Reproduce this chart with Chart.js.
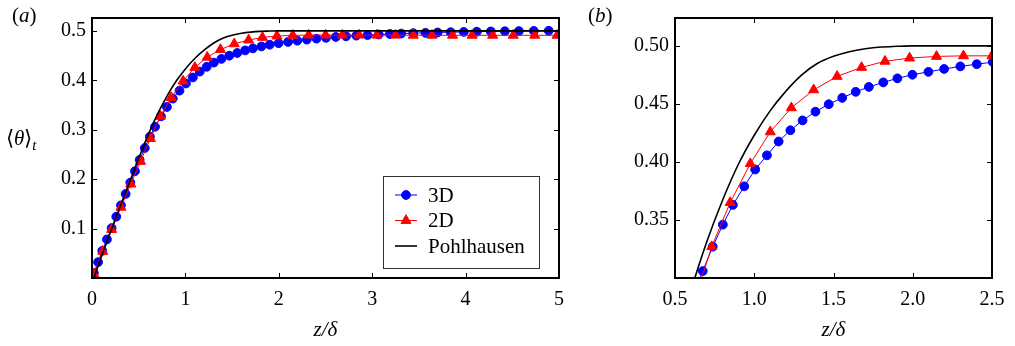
<!DOCTYPE html>
<html>
<head>
<meta charset="utf-8">
<script src="https://cdn.jsdelivr.net/npm/chart.js@4.4.1/dist/chart.umd.min.js"></script>
<style>
  body { margin: 0; background: #fff; width: 1015px; height: 346px; position: relative; overflow: hidden;
         font-family: 'Liberation Serif', 'Times New Roman', serif; color: #000; }
  .panel { position: absolute; top: 0; height: 346px; }
  #wrapA { left: 0; width: 600px; }
  #wrapB { left: 600px; width: 415px; }
  .lbl { position: absolute; font-size: 21px; line-height: 1; }
  .lbl sub { font-size: 15px; }
</style>
</head>
<body>
<div class="panel" id="wrapA"><canvas id="chartA"></canvas></div>
<div class="panel" id="wrapB"><canvas id="chartB"></canvas></div>
<div class="lbl" style="left:12px;top:5px">(<i>a</i>)</div>
<div class="lbl" style="left:588px;top:5px">(<i>b</i>)</div>
<div class="lbl" style="left:6px;top:128px">⟨<i>θ</i>⟩<sub><i>t</i></sub></div>

<script>
// 3D simulation (blue circles)
const x3D = [0.02, 0.065, 0.11, 0.16, 0.21, 0.26, 0.31, 0.36, 0.41, 0.46, 0.51, 0.565, 0.62, 0.675,
  0.738, 0.802, 0.865, 0.937, 1.006, 1.08, 1.154, 1.228, 1.305, 1.386, 1.47, 1.555, 1.64, 1.723,
  1.814, 1.903, 1.998, 2.099, 2.198, 2.30, 2.404, 2.505, 2.61, 2.72, 2.83, 2.95, 3.07, 3.19, 3.31,
  3.44, 3.57, 3.70, 3.84, 3.98, 4.12, 4.27, 4.42, 4.57, 4.73, 4.89];
const y3D = [0.01, 0.032, 0.055, 0.078, 0.101, 0.124, 0.147, 0.17, 0.193, 0.216, 0.239, 0.263, 0.286, 0.306,
  0.327, 0.346, 0.363, 0.379, 0.3935, 0.4057, 0.4176, 0.4273, 0.4358, 0.4433, 0.4497, 0.4552, 0.4604, 0.4646,
  0.4685, 0.472, 0.4751, 0.4776, 0.4801, 0.4823, 0.4842, 0.486, 0.4876, 0.489, 0.4903, 0.4915, 0.4926, 0.4936, 0.4945,
  0.4953, 0.496, 0.4967, 0.4973, 0.4978, 0.4983, 0.4988, 0.4992, 0.4996, 0.4999, 0.5002];

// 2D simulation (red triangles)
const x2D = [0.02, 0.115, 0.21, 0.31, 0.415, 0.52, 0.625, 0.732, 0.848, 0.975, 1.101, 1.234, 1.375, 1.523,
  1.677, 1.825, 1.98, 2.15, 2.32, 2.50, 2.68, 2.86, 3.05, 3.25, 3.44, 3.64, 3.86, 4.07, 4.29, 4.51, 4.74, 4.98];
const y2D = [0.008, 0.054, 0.098, 0.143, 0.19, 0.236, 0.282, 0.327, 0.365, 0.3985, 0.4259, 0.4466, 0.4621, 0.4737,
  0.4814, 0.4867, 0.4895, 0.4909, 0.4914, 0.4914, 0.4914, 0.4913, 0.4912, 0.4912, 0.4911, 0.4911, 0.491, 0.491,
  0.491, 0.491, 0.491, 0.491];

// Pohlhausen solution (black line)
const xPohl = [0.02, 0.1, 0.2, 0.3, 0.4, 0.5, 0.6, 0.7, 0.8, 0.9, 1.0, 1.1, 1.2, 1.3, 1.4, 1.5, 1.6, 1.7, 1.8, 1.9,
  2.0, 2.5, 3.0, 4.0, 5.0];
const yPohl = [0.0, 0.043, 0.094, 0.144, 0.193, 0.242, 0.289, 0.331, 0.367, 0.398, 0.423, 0.444, 0.461, 0.475,
  0.485, 0.491, 0.495, 0.4975, 0.499, 0.4996, 0.5, 0.5, 0.5, 0.5, 0.5];

// tick positions / labels
const xTicksA = [0, 1, 2, 3, 4, 5];
const xLabelsA = ['0', '1', '2', '3', '4', '5'];
const yTicksA = [0.1, 0.2, 0.3, 0.4, 0.5];
const yLabelsA = ['0.1', '0.2', '0.3', '0.4', '0.5'];
const xTicksB = [0.5, 1.0, 1.5, 2.0, 2.5];
const xLabelsB = ['0.5', '1.0', '1.5', '2.0', '2.5'];
const yTicksB = [0.35, 0.40, 0.45, 0.50];
const yLabelsB = ['0.35', '0.40', '0.45', '0.50'];

const serif = "'Liberation Serif', 'Times New Roman', serif";
Chart.defaults.font.family = serif;
Chart.defaults.font.size = 20;
Chart.defaults.color = '#000';

const zip = (xs, ys) => xs.map((x, i) => ({ x, y: ys[i] }));

function makeSets() {
  return [
    { label: '3D', data: zip(x3D, y3D), borderColor: '#0000ff', backgroundColor: '#0000ff',
      borderWidth: 1, pointStyle: 'circle', pointRadius: 4.4, pointBorderWidth: 1, order: 2 },
    { label: '2D', data: zip(x2D, y2D), borderColor: '#ff0000', backgroundColor: '#ff0000',
      borderWidth: 1, pointStyle: 'triangle', pointRadius: 5.8, pointBorderWidth: 1, order: 1 },
    { label: 'Pohlhausen', data: zip(xPohl, yPohl), borderColor: '#000000', backgroundColor: '#000000',
      borderWidth: 1.6, pointRadius: 0, cubicInterpolationMode: 'monotone', order: 0 }
  ];
}

// box + inward ticks on all four sides
const frame = {
  id: 'frame',
  afterDatasetsDraw(chart) {
    const { ctx, chartArea: a, scales } = chart;
    const len = 5;
    ctx.save();
    ctx.strokeStyle = '#000';
    ctx.lineWidth = 1;
    ctx.beginPath();
    scales.x.ticks.forEach(t => {
      const px = Math.round(scales.x.getPixelForValue(t.value)) + 0.5;
      ctx.moveTo(px, a.bottom); ctx.lineTo(px, a.bottom - len);
      ctx.moveTo(px, a.top); ctx.lineTo(px, a.top + len);
    });
    scales.y.ticks.forEach(t => {
      const py = Math.round(scales.y.getPixelForValue(t.value)) + 0.5;
      ctx.moveTo(a.left, py); ctx.lineTo(a.left + len, py);
      ctx.moveTo(a.right, py); ctx.lineTo(a.right - len, py);
    });
    ctx.stroke();
    ctx.lineWidth = 2;
    ctx.strokeRect(a.left, a.top, a.right - a.left, a.bottom - a.top);
    ctx.restore();
  }
};

// boxed legend in the lower right of panel (a)
const boxLegend = {
  id: 'boxLegend',
  afterDraw(chart) {
    const { ctx, chartArea: a } = chart;
    const w = 156, h = 92;
    const left = a.right - 20 - w, top = a.bottom - 10 - h;
    const sets = chart.data.datasets;
    ctx.save();
    ctx.fillStyle = '#fff';
    ctx.fillRect(left, top, w, h);
    ctx.strokeStyle = '#333';
    ctx.lineWidth = 1;
    ctx.strokeRect(left + 0.5, top + 0.5, w, h);
    sets.forEach((ds, i) => {
      const y = top + 19 + i * 25.5;
      ctx.strokeStyle = ds.borderColor;
      ctx.fillStyle = ds.backgroundColor;
      ctx.lineWidth = ds.borderWidth;
      ctx.beginPath();
      ctx.moveTo(left + 12, y); ctx.lineTo(left + 34, y);
      ctx.stroke();
      if (ds.pointRadius > 0) {
        ctx.lineWidth = 1;
        Chart.helpers.drawPoint(ctx, { pointStyle: ds.pointStyle, radius: ds.pointRadius, borderWidth: 1, rotation: 0 }, left + 23, y);
      }
      ctx.fillStyle = '#000';
      ctx.font = '21px ' + serif;
      ctx.textBaseline = 'middle';
      ctx.fillText(ds.label, left + 45, y + 1);
    });
    ctx.restore();
  }
};

function makeChart(id, cfg) {
  return new Chart(document.getElementById(id), {
    type: 'line',
    data: { datasets: makeSets() },
    options: {
      responsive: true,
      maintainAspectRatio: false,
      animation: false,
      layout: { padding: cfg.padding },
      plugins: { legend: { display: false }, tooltip: { enabled: false } },
      elements: { line: { tension: 0 } },
      scales: {
        x: {
          type: 'linear', min: cfg.xMin, max: cfg.xMax,
          grid: { display: false, drawTicks: false },
          border: { display: false },
          ticks: { padding: 10, maxRotation: 0, autoSkip: false, callback: (v, i) => cfg.xLabels[i] },
          afterBuildTicks: s => { s.ticks = cfg.xTicks.map(v => ({ value: v })); },
          afterFit: s => { s.height = 68; },
          title: { display: true, text: 'z/δ', font: { style: 'italic', size: 21 }, padding: { top: 0, bottom: 3 } }
        },
        y: {
          type: 'linear', min: cfg.yMin, max: cfg.yMax,
          grid: { display: false, drawTicks: false },
          border: { display: false },
          ticks: { padding: 6, autoSkip: false, callback: (v, i) => cfg.yLabels[i] },
          afterBuildTicks: s => { s.ticks = cfg.yTicks.map(v => ({ value: v })); },
          afterFit: s => { s.width = cfg.yWidth; }
        }
      }
    },
    plugins: cfg.legend ? [frame, boxLegend] : [frame]
  });
}

makeChart('chartA', {
  padding: { top: 10, right: 41, left: 0, bottom: 0 },
  xMin: 0, xMax: 5, yMin: 0, yMax: 0.526, yWidth: 92,
  xTicks: xTicksA, xLabels: xLabelsA, yTicks: yTicksA, yLabels: yLabelsA, legend: true
});

makeChart('chartB', {
  padding: { top: 9, right: 23, left: 0, bottom: 0 },
  xMin: 0.5, xMax: 2.5, yMin: 0.30, yMax: 0.524, yWidth: 75,
  xTicks: xTicksB, xLabels: xLabelsB, yTicks: yTicksB, yLabels: yLabelsB, legend: false
});
</script>
</body>
</html>
